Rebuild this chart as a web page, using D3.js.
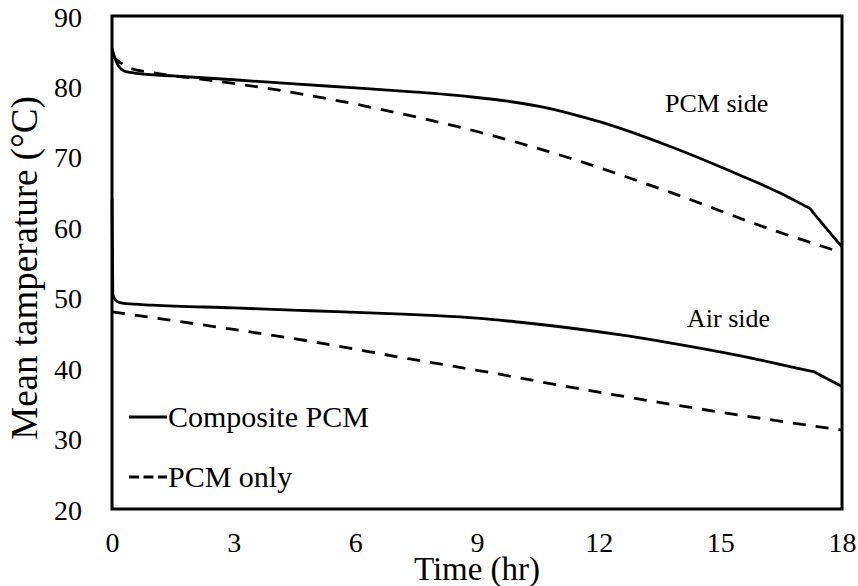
<!DOCTYPE html>
<html>
<head>
<meta charset="utf-8">
<script src="https://cdn.jsdelivr.net/npm/d3@7"></script>
<style>
  body { margin: 0; background: #fff; }
  svg text { font-family: "Liberation Serif", "Times New Roman", serif; fill: #000; }
</style>
</head>
<body>
<svg id="chart" width="858" height="586"></svg>
<script>
const SERIF = '"Liberation Serif", "Times New Roman", serif';

// PCM side, composite PCM (solid)
const PCM_SIDE_COMP_T = [0, 0.05, 0.1, 0.15, 0.2, 0.3, 0.45, 0.6, 1.5, 3, 4.5, 6, 7.5, 8.8, 9.7, 10.5, 11.3, 12.1, 13.75, 15.4, 16.5, 17.1, 17.2, 17.3, 18];
const PCM_SIDE_COMP_V = [85.4, 84.4, 83.6, 83.0, 82.6, 82.2, 82.0, 81.85, 81.5, 80.95, 80.35, 79.8, 79.2, 78.55, 77.95, 77.2, 76.15, 74.85, 71.5, 67.6, 64.8, 63.0, 62.7, 62.0, 57.2];
// PCM side, PCM only (dashed)
const PCM_SIDE_ONLY_T = [0, 0.4, 1, 2.4, 4.5, 6.5, 9, 11.3, 13.75, 16.2, 18];
const PCM_SIDE_ONLY_V = [84.3, 82.7, 81.95, 80.9, 79.1, 76.9, 73.6, 69.8, 65.0, 59.8, 56.4];
// Air side, composite PCM (solid)
const AIR_SIDE_COMP_T = [0, 0.02, 0.06, 0.12, 0.2, 0.35, 1, 3, 4.9, 7, 8, 9, 10, 11.3, 12.5, 13.75, 15.5, 17.2, 17.3, 17.4, 18];
const AIR_SIDE_COMP_V = [64, 50.5, 49.9, 49.5, 49.3, 49.15, 48.95, 48.55, 48.15, 47.7, 47.45, 47.1, 46.55, 45.7, 44.75, 43.6, 41.75, 39.62, 39.5, 39.2, 37.4];
// Air side, PCM only (dashed)
const AIR_SIDE_ONLY_T = [0, 2.4, 4.9, 7.35, 9, 11.3, 13.75, 16.2, 18];
const AIR_SIDE_ONLY_V = [48, 46.0, 43.8, 41.3, 39.7, 37.3, 34.9, 32.7, 31.2];

const X_TICKS = [0, 3, 6, 9, 12, 15, 18];
const Y_TICKS = [20, 30, 40, 50, 60, 70, 80, 90];

const svg = d3.select('#chart');
const M = {left: 112, top: 16, right: 16, bottom: 77};
const W = 858 - M.left - M.right;
const H = 586 - M.top - M.bottom;

const x = d3.scaleLinear().domain([0, 18]).range([0, W]);
const y = d3.scaleLinear().domain([20, 90]).range([H, 0]);

const g = svg.append('g').attr('transform', `translate(${M.left},${M.top})`);

// axes (labels only, no tick marks)
const xAxis = g.append('g')
    .attr('transform', `translate(0,${H})`)
    .call(d3.axisBottom(x).tickValues(X_TICKS).tickSize(0).tickPadding(23));
const yAxis = g.append('g')
    .call(d3.axisLeft(y).tickValues(Y_TICKS).tickSize(0).tickPadding(30));
[xAxis, yAxis].forEach(a => {
    a.select('.domain').remove();
    a.attr('font-family', null).attr('font-size', null);
    a.selectAll('text')
        .style('font-family', SERIF)
        .style('font-size', '28px')
        .attr('fill', '#000');
});
yAxis.selectAll('text').attr('dy', '0.36em');

// frame
g.append('rect')
    .attr('x', 0).attr('y', 0)
    .attr('width', W).attr('height', H)
    .attr('fill', 'none')
    .attr('stroke', '#000')
    .attr('stroke-width', 3);

const line = d3.line()
    .x(p => x(p[0]))
    .y(p => y(p[1]))
    .curve(d3.curveMonotoneX);

const SERIES = [
    {t: PCM_SIDE_COMP_T, v: PCM_SIDE_COMP_V, dash: null},
    {t: PCM_SIDE_ONLY_T, v: PCM_SIDE_ONLY_V, dash: '13,10'},
    {t: AIR_SIDE_COMP_T, v: AIR_SIDE_COMP_V, dash: null},
    {t: AIR_SIDE_ONLY_T, v: AIR_SIDE_ONLY_V, dash: '13,10'}
];

g.selectAll('.series')
    .data(SERIES)
    .enter()
    .append('path')
    .attr('class', 'series')
    .attr('d', d => line(d.t.map((t, i) => [t, d.v[i]])))
    .attr('fill', 'none')
    .attr('stroke', '#000')
    .attr('stroke-width', 2.8)
    .attr('stroke-linejoin', 'round')
    .attr('stroke-dasharray', d => d.dash);

// annotations
g.append('text').attr('x', 553).attr('y', 96)
    .style('font-family', SERIF).style('font-size', '26px').text('PCM side');
g.append('text').attr('x', 575).attr('y', 311)
    .style('font-family', SERIF).style('font-size', '26px').text('Air side');

// legend
const LEGEND = [
    {label: 'Composite PCM', dash: null, y: 401},
    {label: 'PCM only', dash: '10,4.5', y: 461}
];
const lg = g.selectAll('.legend')
    .data(LEGEND)
    .enter()
    .append('g')
    .attr('class', 'legend');
lg.append('line')
    .attr('x1', 17).attr('x2', 55)
    .attr('y1', d => d.y).attr('y2', d => d.y)
    .attr('stroke', '#000')
    .attr('stroke-width', 2.8)
    .attr('stroke-dasharray', d => d.dash);
lg.append('text')
    .attr('x', 56)
    .attr('y', d => d.y + 10)
    .style('font-family', SERIF)
    .style('font-size', '30px')
    .text(d => d.label);

// axis titles
svg.append('text')
    .attr('x', M.left + x(9))
    .attr('y', 580)
    .attr('text-anchor', 'middle')
    .style('font-family', SERIF)
    .style('font-size', '33px')
    .text('Time (hr)');
svg.append('text')
    .attr('transform', 'translate(37,268) rotate(-90)')
    .attr('text-anchor', 'middle')
    .style('font-family', SERIF)
    .style('font-size', '37px')
    .text('Mean tamperature (°C)');
</script>
</body>
</html>
